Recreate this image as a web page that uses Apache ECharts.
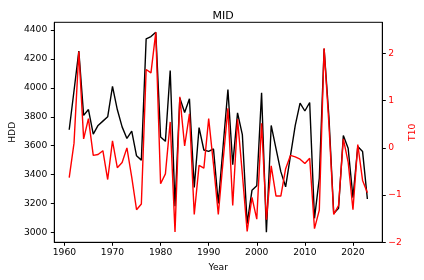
<!DOCTYPE html>
<html>
<head>
<meta charset="utf-8">
<script src="https://cdn.jsdelivr.net/npm/echarts@6/dist/echarts.min.js"></script>
<style>html,body{margin:0;padding:0;background:#fff}#c{width:424px;height:280px}</style>
</head>
<body>
<div id="c"></div>
<script>
const years = [];
for (let y = 1961; y <= 2023; y++) years.push(y);
const hdd = [3710,3980,4255,3810,3850,3680,3740,3770,3800,4010,
  3850,3730,3650,3700,3530,3500,4340,4355,4385,3660,
  3630,4120,3180,3930,3830,3925,3310,3725,3570,3560,
  3577,3200,3596,3989,3469,3827,3677,3060,3291,3323,
  3966,3000,3740,3580,3420,3315,3530,3740,3895,3840,
  3899,3097,3374,4270,3800,3130,3166,3670,3582,3240,
  3594,3559,3231];
const t10 = [-0.63,0.1,2.04,0.19,0.62,-0.16,-0.14,-0.06,-0.67,0.15,
  -0.42,-0.31,0.0,-0.62,-1.31,-1.19,1.66,1.59,2.45,-0.76,
  -0.55,0.55,-1.78,1.08,0.04,0.72,-1.41,-0.37,-0.43,0.62,
  -0.35,-1.41,-0.27,0.84,-1.22,0.61,-0.55,-1.77,-1.05,-1.51,
  0.52,-1.52,-0.38,-1.02,-1.02,-0.44,-0.16,-0.19,-0.24,-0.33,
  -0.22,-1.71,-1.32,2.11,0.5,-1.41,-1.22,0.19,-0.30,-1.31,
  0.07,-0.69,-0.95];
const xTicks = [1960,1970,1980,1990,2000,2010,2020];
const hddTicks = [3000,3200,3400,3600,3800,4000,4200,4400];
const t10Ticks = [-2,-1,0,1,2];

const font = 'DejaVu Sans';
const fs = 9.2;
const plain = v => String(v).replace('-', '\u2212');
const chart = echarts.init(document.getElementById('c'), null, {renderer:'canvas'});
chart.setOption({
  animation: false,
  backgroundColor: '#fff',
  title: {text: 'MID', left: 218, top: 6, textAlign: 'center',
    textStyle: {fontFamily: font, fontSize: 11, fontWeight: 'normal', color: '#000'}},
  grid: {left: 54.3, right: 41.7, top: 22.3, bottom: 37.7, show: true, borderColor: '#000', borderWidth: 1,
    containLabel: false, outerBoundsMode: 'none'},
  xAxis: {
    type: 'value', min: 1957.9, max: 2026.1,
    name: 'Year', nameLocation: 'middle', nameGap: 21, nameMoveOverlap: false,
    nameTextStyle: {fontFamily: font, fontSize: fs, color: '#000'},
    axisLine: {show: true, onZero: false, lineStyle: {color: '#000', width: 1}},
    axisTick: {show: true, length: 3.5, customValues: xTicks, lineStyle: {color: '#000'}},
    axisLabel: {customValues: xTicks, margin: 6, fontFamily: font, fontSize: fs, color: '#000', formatter: plain},
    splitLine: {show: false}
  },
  yAxis: [{
    type: 'value', min: 2931, max: 4454, position: 'left',
    name: 'HDD', nameLocation: 'middle', nameGap: 42, nameRotate: 90, nameMoveOverlap: false,
    nameTextStyle: {fontFamily: font, fontSize: fs, color: '#000', align: 'center', verticalAlign: 'middle'},
    axisLine: {show: true, onZero: false, lineStyle: {color: '#000', width: 1}},
    axisTick: {show: true, length: 3.5, customValues: hddTicks, lineStyle: {color: '#000'}},
    axisLabel: {customValues: hddTicks, margin: 7, fontFamily: font, fontSize: fs, color: '#000', formatter: plain},
    splitLine: {show: false}
  }, {
    type: 'value', min: -2.0, max: 2.66, position: 'right',
    name: 'T10', nameLocation: 'middle', nameGap: 30, nameRotate: 90, nameMoveOverlap: false,
    nameTextStyle: {fontFamily: font, fontSize: fs, color: 'red', align: 'center', verticalAlign: 'middle'},
    axisLine: {show: true, onZero: false, lineStyle: {color: '#000', width: 1}},
    axisTick: {show: true, length: 3.5, customValues: t10Ticks, lineStyle: {color: '#000'}},
    axisLabel: {customValues: t10Ticks, margin: 6, fontFamily: font, fontSize: fs, color: 'red', formatter: plain},
    splitLine: {show: false}
  }],
  series: [{
    type: 'line', yAxisIndex: 0, data: years.map((y, i) => [y, hdd[i]]),
    showSymbol: false, lineStyle: {color: '#000', width: 1.4}, itemStyle: {color: '#000'}
  }, {
    type: 'line', yAxisIndex: 1, data: years.map((y, i) => [y, t10[i]]),
    showSymbol: false, lineStyle: {color: 'red', width: 1.4}, itemStyle: {color: 'red'}
  }]
});
</script>
</body>
</html>
